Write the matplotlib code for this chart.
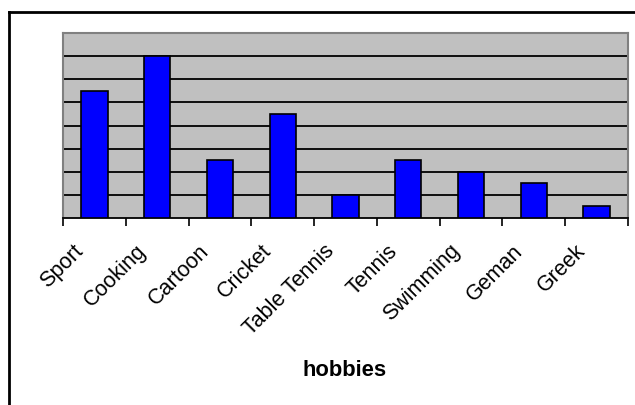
import matplotlib
matplotlib.use("Agg")
import matplotlib.pyplot as plt
import numpy as np

plt.rcParams['font.family'] = ['Liberation Sans', 'DejaVu Sans']

hobbies = ["Sport", "Cooking", "Cartoon", "Cricket", "Table Tennis",
           "Tennis", "Swimming", "Geman", "Greek"]
counts = [5.5, 7, 2.5, 4.5, 1, 2.5, 2, 1.5, 0.5]

fig = plt.figure(figsize=(6.35, 4.05), dpi=100)
ax = fig.add_axes([63 / 635, 1 - 218 / 405, 565 / 635, 185 / 405])
ax.set_facecolor("#c0c0c0")

x = np.arange(len(hobbies))
ax.bar(x, counts, width=0.42, color="#0000ff", edgecolor="black",
       linewidth=1.2, zorder=3)

ax.set_xlim(-0.5, len(hobbies) - 0.5)
ax.set_ylim(0, 8)
ax.set_yticks(range(1, 8))
ax.yaxis.grid(True, color="black", linewidth=1.3, zorder=1)
ax.tick_params(axis="y", left=False, labelleft=False)

# ticks between categories
ax.set_xticks(np.arange(-0.5, len(hobbies)))
ax.set_xticklabels([])
ax.tick_params(axis="x", direction="out", length=6, width=1.2, color="black")

# rotated category labels, ending a bit left of each centre
for i, name in enumerate(hobbies):
    ax.annotate(name, xy=(i, 0), xycoords=("data", "axes fraction"),
                xytext=(-14, -30), textcoords="offset pixels",
                rotation=45, ha="right", va="center",
                rotation_mode="anchor", fontsize=15.5,
                annotation_clip=False)

for side in ["left", "right", "top"]:
    ax.spines[side].set_color("#808080")
    ax.spines[side].set_linewidth(1.5)
ax.spines["bottom"].set_color("black")
ax.spines["bottom"].set_linewidth(1.3)

fig.text(345 / 635, 1 - 370 / 405, "hobbies", fontsize=15.8,
         fontweight="bold", ha="center", va="center")

# chart area border (right and bottom fall off the picture)
fig.add_artist(plt.Line2D([9 / 635, 1], [1 - 12 / 405, 1 - 12 / 405],
                          color="black", linewidth=2))
fig.add_artist(plt.Line2D([9 / 635, 9 / 635], [0, 1 - 12 / 405],
                          color="black", linewidth=2))

fig.savefig("out.png", dpi=100)
